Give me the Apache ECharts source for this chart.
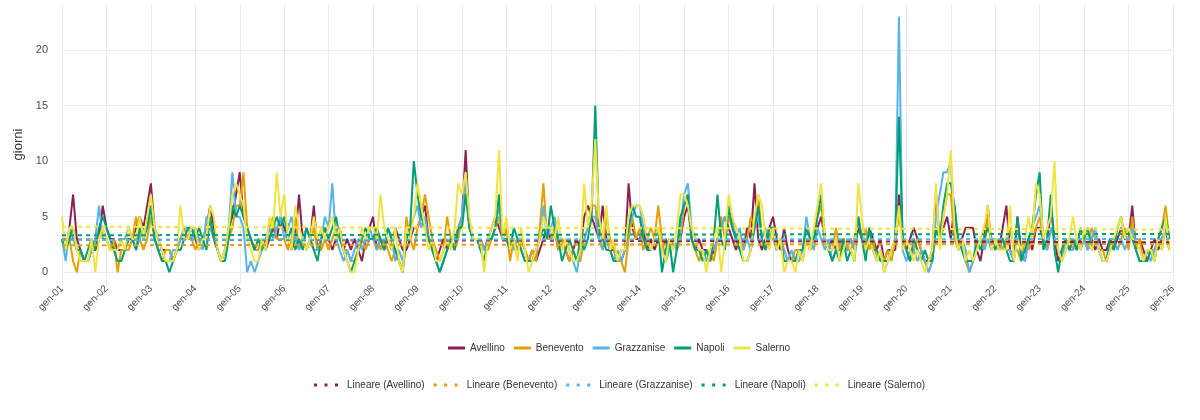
<!DOCTYPE html>
<html>
<head>
<meta charset="utf-8">
<script src="https://cdn.jsdelivr.net/npm/echarts@6/dist/echarts.min.js"></script>
<style>
  html, body { margin: 0; padding: 0; background: #fff; }
  #chart { width: 1200px; height: 420px; }
</style>
</head>
<body>
<div id="chart"></div>
<script>
// mesi e anni per le etichette dell'asse x
const months = ["gen", "feb", "mar", "apr", "mag", "giu", "lug", "ago", "set", "ott", "nov", "dic"];
const years = ["01", "02", "03", "04", "05", "06", "07", "08", "09", "10", "11", "12", "13",
  "14", "15", "16", "17", "18", "19", "20", "21", "22", "23", "24", "25"];
const yTicks = [0, 5, 10, 15, 20];

const stations = ["Avellino", "Benevento", "Grazzanise", "Napoli", "Salerno"];
const colors = ["#882255", "#E69F00", "#56B4E9", "#009E73", "#F0E442"];

// giorni al mese, una riga per anno (2001 -> 2025)
const avellino = [
  3,2,4,7,3,2,1,1,2,2,3,6,
  4,3,3,2,2,2,3,3,4,5,4,6,
  8,4,3,2,2,2,1,2,3,3,3,4,
  3,2,3,4,6,4,2,1,2,4,5,7,
  9,5,4,3,2,2,3,2,3,4,3,5,
  4,3,2,3,7,3,2,3,6,2,3,4,
  3,2,3,4,2,3,2,3,2,1,3,4,
  5,2,3,2,3,2,4,3,2,2,3,4,
  4,5,6,3,2,1,2,3,2,3,2,4,
  5,11,4,3,3,3,2,3,4,5,4,3,
  3,2,3,2,3,2,1,2,1,2,3,4,
  3,4,2,3,2,1,2,3,2,5,6,5,
  4,3,6,3,2,2,1,1,2,8,4,3,
  3,4,2,3,2,3,2,3,2,3,2,3,
  5,6,3,2,3,2,2,1,2,3,4,5,
  4,3,2,3,2,4,3,8,3,2,3,4,
  5,3,2,4,2,1,1,2,2,3,2,3,
  4,5,3,2,3,2,2,3,2,3,2,4,
  3,2,4,3,2,3,1,2,2,2,7,3,
  2,3,4,3,2,1,1,2,7,3,4,5,
  3,6,2,3,4,4,4,2,1,3,6,2,
  3,2,4,6,2,1,5,2,1,3,2,4,
  4,3,2,6,3,1,2,3,2,3,2,3,
  3,2,3,2,3,2,2,3,2,3,4,3,
  3,6,2,3,2,1,2,3,2,3,4,2
];
const benevento = [
  3,2,3,1,0,2,1,1,2,3,3,4,
  3,2,3,0,2,2,2,3,5,3,2,3,
  5,3,2,1,2,2,1,2,3,4,3,3,
  2,3,3,4,5,3,2,1,2,3,4,6,
  6,9,4,3,2,2,3,2,4,5,3,3,
  3,2,3,5,2,3,2,3,4,2,2,3,
  2,3,4,3,2,2,1,1,2,3,2,3,
  3,4,2,3,2,1,2,1,0,5,3,2,
  4,5,7,5,3,2,1,2,5,3,2,3,
  5,8,4,3,3,3,2,2,3,4,5,3,
  4,1,3,2,3,2,1,2,1,4,8,3,
  3,4,2,3,2,1,2,1,1,3,4,6,
  6,3,2,5,3,2,1,1,0,3,5,3,
  4,2,3,4,3,6,3,1,2,3,2,3,
  6,7,3,2,1,2,1,2,1,3,5,3,
  5,4,3,2,3,3,5,4,7,3,2,3,
  4,2,3,2,1,1,2,2,1,3,2,3,
  5,6,3,2,2,4,2,3,2,2,3,5,
  3,4,2,3,1,2,1,2,1,3,5,3,
  2,1,2,3,2,1,0,1,4,3,5,7,
  7,3,2,3,1,0,1,2,3,2,5,3,
  2,3,2,3,4,2,2,1,3,2,3,4,
  5,3,2,4,3,2,1,2,3,2,3,2,
  3,2,4,3,2,2,1,2,3,2,3,4,
  2,5,2,3,1,1,2,2,3,4,6,3
];
const grazzanise = [
  3,1,4,3,2,2,1,1,2,3,6,3,
  3,2,2,2,3,3,4,3,2,3,4,4,
  6,3,2,2,1,1,2,2,3,4,4,3,
  4,3,2,5,4,3,2,1,2,4,9,5,
  5,4,0,1,0,1,2,3,4,3,4,5,
  3,4,5,3,2,3,4,3,2,2,3,5,
  4,8,3,2,1,2,1,2,3,2,3,4,
  3,2,3,2,4,3,1,2,1,3,4,5,
  6,4,5,3,2,1,0,1,2,3,3,4,
  5,9,4,3,3,3,2,3,3,4,6,3,
  3,3,2,3,2,1,1,1,2,3,6,3,
  4,5,3,2,3,2,1,0,2,3,4,5,
  5,3,2,3,2,1,2,1,2,4,5,6,
  6,4,3,2,3,3,2,1,2,3,2,4,
  7,8,4,3,2,2,1,2,2,3,4,5,
  5,5,3,4,2,3,2,4,5,3,4,3,
  3,2,3,2,1,2,1,1,2,5,3,2,
  4,3,2,3,1,2,3,2,2,3,2,5,
  3,2,4,2,1,2,0,1,2,3,23,2,
  1,2,2,1,2,1,0,1,5,7,9,9,
  10,4,2,3,2,0,1,2,3,2,3,2,
  3,2,3,2,2,1,3,2,1,3,4,5,
  6,3,2,4,3,2,1,3,2,2,3,2,
  3,2,3,4,2,1,1,2,3,2,3,2,
  3,4,2,1,1,2,1,2,3,2,4,3
];
const napoli = [
  3,2,3,4,2,2,1,2,3,2,4,5,
  4,3,2,1,1,2,3,3,2,4,3,4,
  6,3,2,1,1,0,1,2,2,3,4,4,
  3,4,3,2,5,3,2,1,1,3,6,5,
  6,5,4,3,2,3,2,3,3,4,5,4,
  5,3,4,2,3,2,4,3,2,1,3,4,
  3,4,5,3,2,1,0,1,2,3,4,3,
  3,4,3,2,4,3,2,1,0,3,4,10,
  7,5,4,3,2,1,0,1,2,3,2,4,
  4,7,4,3,3,2,1,3,3,4,7,3,
  3,2,4,3,2,1,1,1,2,3,4,3,
  6,4,3,1,2,3,2,1,3,2,3,5,
  15,4,3,2,2,1,1,2,2,4,6,5,
  5,3,2,2,3,4,0,2,3,0,2,5,
  6,7,3,2,2,1,2,1,3,7,3,2,
  6,4,3,2,1,1,2,4,6,3,2,4,
  4,2,3,1,1,1,1,2,2,4,3,3,
  5,7,3,2,1,2,1,3,1,2,1,5,
  3,1,4,2,2,1,1,1,2,3,14,3,
  2,1,3,2,1,2,1,1,4,3,6,8,
  8,6,3,2,1,1,1,3,2,3,4,3,
  2,3,3,2,1,1,5,1,2,3,4,7,
  9,2,3,7,2,0,2,3,2,3,2,4,
  3,4,2,3,2,1,1,3,2,4,5,3,
  4,3,2,1,1,1,2,1,3,4,5,3
];
const salerno = [
  5,2,4,4,2,1,1,1,3,0,3,4,
  3,2,2,2,3,2,4,3,3,5,3,5,
  7,4,3,2,1,1,1,2,6,3,3,4,
  4,2,3,3,6,5,2,1,2,4,7,8,
  7,6,3,2,1,1,3,2,5,4,9,5,
  7,3,2,6,4,3,2,3,5,3,4,3,
  4,5,3,4,2,1,0,0,2,4,3,4,
  4,3,7,4,3,2,4,1,0,4,3,5,
  8,6,4,2,3,1,1,2,3,2,4,8,
  7,9,5,3,3,3,0,3,4,5,11,3,
  5,2,3,1,4,2,0,1,2,3,5,4,
  4,3,5,2,3,2,1,1,2,8,4,6,
  12,5,3,6,2,3,1,2,2,5,6,6,
  6,5,3,2,3,4,2,1,3,2,4,7,
  7,6,4,3,2,2,0,2,3,4,0,3,
  7,5,4,3,1,1,2,5,7,6,3,2,
  4,2,3,0,1,1,0,2,1,3,2,4,
  6,8,3,2,2,3,1,2,3,2,1,8,
  5,2,3,2,1,2,0,1,2,3,6,2,
  3,2,1,2,1,0,1,2,8,2,5,7,
  11,4,2,3,1,2,1,2,3,4,6,2,
  3,2,2,2,6,1,3,2,3,5,3,8,
  7,3,4,5,10,2,1,2,3,5,3,2,
  4,3,2,3,2,1,1,2,3,4,5,3,
  4,3,3,2,1,2,2,1,3,2,5,2
];

// rette di tendenza: valore iniziale e finale
const trendStart = [2.95, 2.43, 2.9, 3.33, 4.1];
const trendEnd = [2.7, 2.55, 3.0, 3.45, 3.85];

const values = [avellino, benevento, grazzanise, napoli, salerno];

const categories = [];
years.forEach((y) => months.forEach((m) => categories.push(m + "-" + y)));
categories.push("gen-26");

const font = "'Liberation Sans', Arial, sans-serif";

const lineSeries = stations.map((name, i) => ({
  name,
  type: "line",
  data: values[i],
  symbol: "none",
  clip: false,
  lineStyle: { color: colors[i], width: 2 },
  itemStyle: { color: colors[i] },
  z: 2,
}));

const trendSeries = stations.map((name, i) => ({
  name: "Lineare (" + name + ")",
  type: "line",
  data: [[0, trendStart[i]], [values[i].length - 1, trendEnd[i]]],
  symbol: "none",
  lineStyle: { color: colors[i], width: 2, type: [4, 4] },
  itemStyle: { color: colors[i] },
  z: 3,
}));

const chart = echarts.init(document.getElementById("chart"));
chart.setOption({
  animation: false,
  backgroundColor: "#fff",
  grid: { left: 62, right: 27, top: 4, bottom: 135 },
  legend: [
    {
      data: stations,
      top: 338,
      left: 443,
      icon: "rect",
      itemWidth: 17,
      itemHeight: 3,
      itemGap: 9,
      textStyle: { color: "#333", fontSize: 10, fontFamily: font },
    },
    {
      data: stations.map((s) => "Lineare (" + s + ")"),
      top: 375,
      left: 309,
      icon: "path://M0,0h3v3h-3z M10.5,0h3v3h-3z M21,0h3v3h-3z",
      itemWidth: 24,
      itemHeight: 3,
      itemGap: 9,
      textStyle: { color: "#333", fontSize: 10, fontFamily: font, padding: [0, 0, 0, 4] },
    },
  ],
  xAxis: {
    type: "category",
    data: categories,
    boundaryGap: false,
    axisLine: { show: false },
    axisTick: { show: false },
    axisLabel: {
      interval: 11,
      rotate: 45,
      margin: 2,
      color: "#4d4d4d",
      fontSize: 10,
      fontFamily: font,
    },
    splitLine: { show: true, interval: 11, lineStyle: { color: "#ebebeb", width: 1 } },
  },
  yAxis: {
    type: "value",
    min: -1.15,
    max: 24.15,
    name: "giorni",
    nameLocation: "middle",
    nameGap: 26,
    nameRotate: 90,
    nameTextStyle: { color: "#333", fontSize: 13, fontFamily: font },
    axisLine: { show: false },
    axisTick: { show: false, customValues: yTicks },
    axisLabel: {
      customValues: yTicks,
      margin: 14,
      color: "#4d4d4d",
      fontSize: 11,
      fontFamily: font,
    },
    splitLine: { show: true, lineStyle: { color: "#ebebeb", width: 1 } },
  },
  series: lineSeries.concat(trendSeries),
});
</script>
</body>
</html>
